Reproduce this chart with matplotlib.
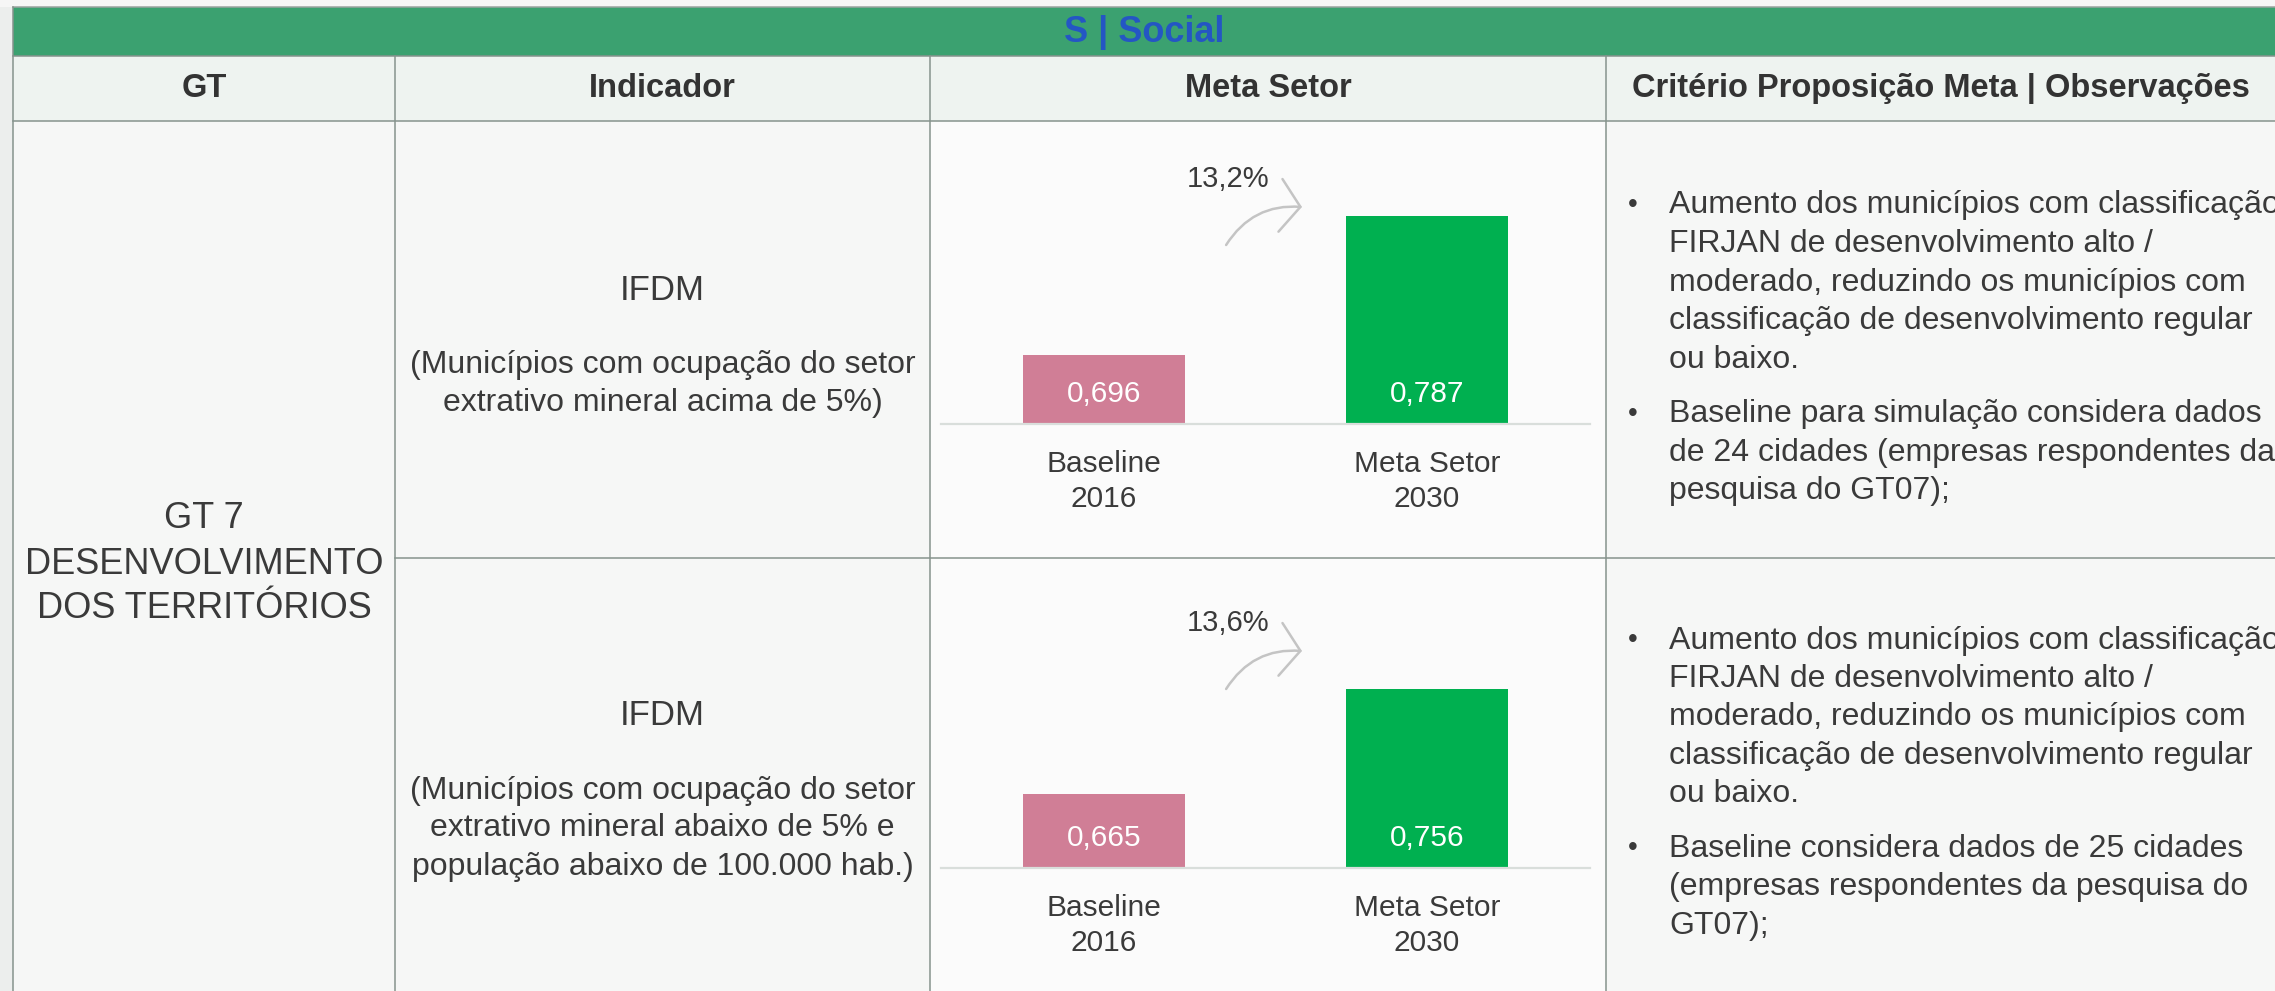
import matplotlib
matplotlib.use("Agg")
import matplotlib.pyplot as plt
from matplotlib import transforms
from matplotlib.patches import Rectangle

# ============================================================
# DATA
# ============================================================

title = "S | Social"

headers = [
    "GT",
    "Indicador",
    "Meta Setor",
    "Critério Proposição Meta | Observações",
]

gt_label = ["GT 7", "DESENVOLVIMENTO", "DOS TERRITÓRIOS"]

indicator_name = "IFDM"

indicator_notes = [
    ["(Municípios com ocupação do setor",
     "extrativo mineral acima de 5%)"],
    ["(Municípios com ocupação do setor",
     "extrativo mineral abaixo de 5% e",
     "população abaixo de 100.000 hab.)"],
]

categories = ["Baseline\n2016", "Meta Setor\n2030"]

values_row1 = [0.696, 0.787]
values_row2 = [0.665, 0.756]

growth_labels = ["13,2%", "13,6%"]

bullets_row1 = [
    ["Aumento dos municípios com classificação",
     "FIRJAN de desenvolvimento alto /",
     "moderado, reduzindo os municípios com",
     "classificação de desenvolvimento regular",
     "ou baixo."],
    ["Baseline para simulação considera dados",
     "de 24 cidades (empresas respondentes da",
     "pesquisa do GT07);"],
]

bullets_row2 = [
    ["Aumento dos municípios com classificação",
     "FIRJAN de desenvolvimento alto /",
     "moderado, reduzindo os municípios com",
     "classificação de desenvolvimento regular",
     "ou baixo."],
    ["Baseline considera dados de 25 cidades",
     "(empresas respondentes da pesquisa do",
     "GT07);"],
]

# ============================================================
# STYLE
# ============================================================

W, H = 2275, 991
DPI = 100

plt.rcParams["font.family"] = ["Liberation Sans", "DejaVu Sans"]

TXT = "#3a3a3a"
GRID = "#86938d"
BAND = "#3ba170"
BLUE = "#2456c4"
PINK = "#d07e96"
GREEN = "#00b050"
ARROW = "#c4c4c4"

# column borders / row borders in pixels
col_x = [13, 395, 930, 1606, W]
band_top, band_bot = 7, 56
head_bot = 121
row_split = 558

fig = plt.figure(figsize=(W / DPI, H / DPI), dpi=DPI)
fig.patch.set_facecolor("#eceeed")

bg = fig.add_axes([0, 0, 1, 1])
bg.set_xlim(0, W)
bg.set_ylim(H, 0)
bg.axis("off")

# ============================================================
# TABLE
# ============================================================

bg.add_patch(Rectangle((0, 0), W, band_top, color="#f6f6f6", lw=0))
bg.add_patch(Rectangle((col_x[0], band_top), W, band_bot - band_top,
                       color=BAND, lw=0))
bg.add_patch(Rectangle((col_x[0], band_bot), W, head_bot - band_bot,
                       color="#eef3f0", lw=0))
bg.add_patch(Rectangle((col_x[0], head_bot), W, H - head_bot,
                       color="#f6f7f6", lw=0))
bg.add_patch(Rectangle((col_x[2], head_bot), col_x[3] - col_x[2], H - head_bot,
                       color="#fbfbfb", lw=0))

lw = 1.1
bg.plot([col_x[0], W], [band_top, band_top], color="#9aa39f", lw=lw)
bg.plot([col_x[0], W], [band_bot, band_bot], color=GRID, lw=lw)
bg.plot([col_x[0], W], [head_bot, head_bot], color=GRID, lw=lw)
bg.plot([col_x[1], W], [row_split, row_split], color=GRID, lw=lw)
bg.plot([col_x[0], col_x[0]], [band_top, H], color=GRID, lw=lw)
for x in col_x[1:4]:
    bg.plot([x, x], [band_bot, H], color=GRID, lw=lw)

bg.text((col_x[0] + W) / 2, (band_top + band_bot) / 2 + 1, title,
        ha="center", va="center", fontsize=26, fontweight="bold",
        color=BLUE)

for i, h in enumerate(headers):
    bg.text((col_x[i] + col_x[i + 1]) / 2, (band_bot + head_bot) / 2,
            h, ha="center", va="center", fontsize=23.5,
            fontweight="bold", color="#333333")

# GT cell
for k, line in enumerate(gt_label):
    bg.text((col_x[0] + col_x[1]) / 2, 515 + 45 * k, line,
            ha="center", va="center_baseline", fontsize=26, color=TXT)

# indicator cells
for top, notes in zip([287, 712], indicator_notes):
    bg.text((col_x[1] + col_x[2]) / 2, top, indicator_name,
            ha="center", va="center_baseline", fontsize=25, color=TXT)
    for k, line in enumerate(notes):
        bg.text((col_x[1] + col_x[2]) / 2, top + 75 + 38 * k, line,
                ha="center", va="center_baseline", fontsize=23, color=TXT)

# observation cells
for y0, paras in zip([202, 637], [bullets_row1, bullets_row2]):
    y = y0
    for para in paras:
        bg.text(1633, y, "•", ha="center", va="center_baseline",
                fontsize=20, color=TXT)
        for line in para:
            bg.text(1669, y, line, ha="left", va="center_baseline",
                    fontsize=23, color=TXT)
            y += 38.5
        y += 16

# ============================================================
# BAR CHARTS
# ============================================================

def bar_panel(bottom_px, top_px, values, ylim, growth):

    ax = fig.add_axes([
        941 / W,
        (H - bottom_px) / H,
        649 / W,
        (bottom_px - top_px) / H,
    ])
    ax.set_facecolor("none")

    x = range(len(values))
    ax.bar(x, values, width=0.5, color=[PINK, GREEN])

    ax.set_xlim(-0.505, 1.505)
    ax.set_ylim(*ylim)

    for s in ["top", "left", "right"]:
        ax.spines[s].set_visible(False)
    ax.spines["bottom"].set_color("#d9dedb")
    ax.spines["bottom"].set_linewidth(1.6)
    ax.set_yticks([])

    ax.set_xticks(list(x), categories)
    ax.tick_params(axis="x", length=0, pad=19, labelsize=21.5,
                   labelcolor=TXT)
    for lbl in ax.get_xticklabels():
        lbl.set_linespacing(1.3)

    base = transforms.blended_transform_factory(ax.transData, ax.transAxes)

    for i, v in enumerate(values):
        ax.annotate(f"{v:.3f}".replace(".", ","), xy=(i, 0),
                    xycoords=base, xytext=(0, 30),
                    textcoords="offset pixels", ha="center", va="center",
                    fontsize=21.5, color="white")

    ax.annotate(growth, xy=(0.384, 0), xycoords=base, xytext=(0, 245),
                textcoords="offset pixels", ha="center", va="center",
                fontsize=21, color=TXT)

    ax.annotate(
        "",
        xy=(0.613, 0),
        xycoords=transforms.offset_copy(base, y=217, units="dots"),
        xytext=(0.378, 0),
        textcoords=transforms.offset_copy(base, y=179, units="dots"),
        arrowprops=dict(
            arrowstyle="->,head_length=0.72,head_width=0.95",
            connectionstyle="arc3,rad=-0.3",
            color=ARROW, lw=1.8, mutation_scale=20,
            shrinkA=0, shrinkB=0,
        ),
    )

    return ax


bar_panel(424, head_bot, values_row1, (0.6508, 0.849), growth_labels[0])
bar_panel(868, row_split, values_row2, (0.601, 0.869), growth_labels[1])

fig.savefig("out.png", dpi=DPI, facecolor=fig.get_facecolor())
